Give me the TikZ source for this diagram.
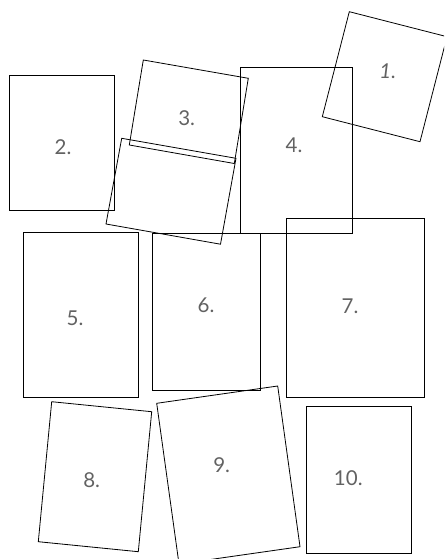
\documentclass[tikz,border=0pt]{standalone}
\usepackage{fontspec}
\setmainfont{Lato}
\definecolor{labelgray}{HTML}{626262}
\begin{document}
\begin{tikzpicture}[x=1pt,y=-1pt,
  card/.style={draw=black,line width=0.8pt,line join=miter},
  lbl/.style={text=labelgray,inner sep=0pt,font=\fontsize{20.5}{24}\selectfont}]
\useasboundingbox (0,0) rectangle (444,559);
\clip (0,0) rectangle (444,559);
% 1
\draw[card] (349.3,11.7) -- (447,36.7) -- (420,141.7) -- (322.3,116.7) -- cycle;
% 2
\draw[card] (9.3,75) rectangle (114.3,210);
% 3 (upper) and lower tilted sheet
\draw[card] (143.3,60) -- (248.3,78.3) -- (234.3,163.5) -- (129.3,145) -- cycle;
\draw[card] (121.7,138.3) -- (236,158.3) -- (220.5,244.2) -- (106,224) -- cycle;
% 4
\draw[card] (240.7,67.3) rectangle (352.7,233.3);
% 5
\draw[card] (23.3,232.7) rectangle (138.3,397.7);
% 6
\draw[card] (152.3,233.3) rectangle (260,390);
% 7
\draw[card] (286.7,218.3) rectangle (424,397.7);
% 8
\draw[card] (51.7,401.7) -- (151.7,411.7) -- (138.3,551.7) -- (38.3,541.7) -- cycle;
% 9
\draw[card] (156.7,403.3) -- (277.7,386) -- (300,546.7) -- (179,564) -- cycle;
% 10
\draw[card] (306,406) rectangle (411,553.3);
% labels
\node[lbl,font=\fontsize{20.5}{24}\selectfont\itshape] (l1) at (387.7,71.7) {1.};
\node[lbl] (l2) at (63,146.7) {2.};
\node[lbl] (l3) at (186.7,118.3) {3.};
\node[lbl] (l4) at (294,145) {4.};
\node[lbl] (l5) at (75,318.3) {5.};
\node[lbl] (l6) at (206,305) {6.};
\node[lbl] (l7) at (350,306.7) {7.};
\node[lbl] (l8) at (91.7,480) {8.};
\node[lbl] (l9) at (221.7,465) {9.};
\node[lbl] (l10) at (348.3,478.3) {10.};
\end{tikzpicture}
\end{document}
